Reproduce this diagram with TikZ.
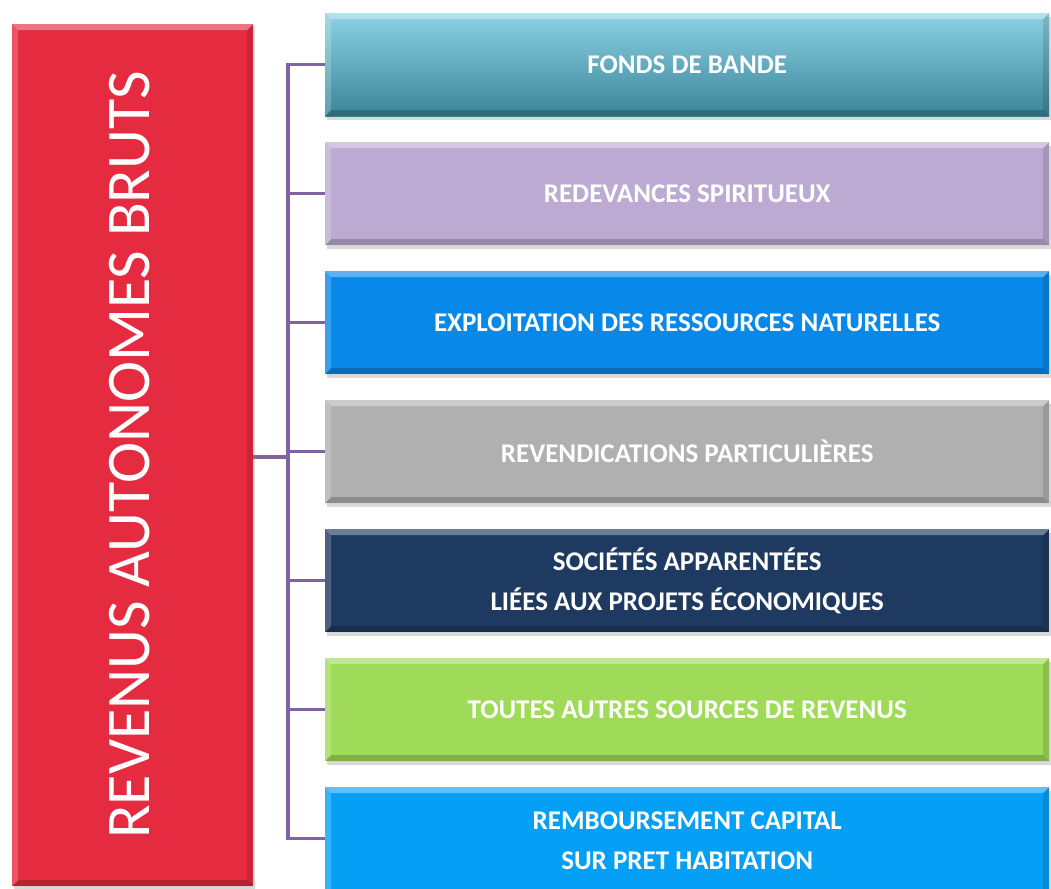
\documentclass[tikz,border=0pt]{standalone}
\usepackage{fontspec}
\setmainfont{Carlito}
\usetikzlibrary{shadows}
\definecolor{redbox}{RGB}{229,43,63}
\definecolor{tealtop}{RGB}{140,210,228}
\definecolor{tealbot}{RGB}{58,132,152}
\definecolor{lavender}{RGB}{188,170,210}
\definecolor{blueA}{RGB}{8,136,232}
\definecolor{grayB}{RGB}{176,176,176}
\definecolor{navy}{RGB}{31,58,96}
\definecolor{greenC}{RGB}{159,219,88}
\definecolor{blueD}{RGB}{5,160,246}
\definecolor{purpleline}{RGB}{128,100,162}
\tikzset{
  bevel/.style={path picture={
    \fill[white,opacity=.35] (path picture bounding box.north west) -- (path picture bounding box.north east)
      -- ([xshift=-6pt,yshift=-6pt]path picture bounding box.north east) -- ([xshift=6pt,yshift=-6pt]path picture bounding box.north west) -- cycle;
    \fill[white,opacity=.2] (path picture bounding box.north west) -- ([xshift=6pt,yshift=-6pt]path picture bounding box.north west)
      -- ([xshift=6pt,yshift=6pt]path picture bounding box.south west) -- (path picture bounding box.south west) -- cycle;
    \fill[black,opacity=.2] (path picture bounding box.south west) -- (path picture bounding box.south east)
      -- ([xshift=-6pt,yshift=6pt]path picture bounding box.south east) -- ([xshift=6pt,yshift=6pt]path picture bounding box.south west) -- cycle;
    \fill[black,opacity=.12] (path picture bounding box.north east) -- ([xshift=-6pt,yshift=-6pt]path picture bounding box.north east)
      -- ([xshift=-6pt,yshift=6pt]path picture bounding box.south east) -- (path picture bounding box.south east) -- cycle;
  }},
  item/.style={rectangle, minimum width=724pt, minimum height=103pt, anchor=north west,
    inner sep=0pt, text=white, align=center,
    font=\bfseries\fontsize{27}{40}\selectfont,
    drop shadow={shadow xshift=2pt, shadow yshift=-4pt, opacity=.3}, bevel},
  mainbox/.style={rectangle, minimum width=241pt, minimum height=862pt, anchor=north west,
    inner sep=0pt, fill=redbox, drop shadow={shadow xshift=2pt, shadow yshift=-3pt, opacity=.3}, bevel},
  conn/.style={draw=purpleline, line width=3.5pt},
}
\begin{document}
\begin{tikzpicture}[x=1pt,y=-1pt]
\useasboundingbox (0,0) rectangle (1051,888);
\clip (0,0) rectangle (1051,888);
\node[mainbox] (red) at (12,24) {};
\node[text=white, rotate=90, font=\fontsize{62}{70}\selectfont] (redlabel) at (130,455) {REVENUS AUTONOMES BRUTS};
\node[item, top color=tealtop, bottom color=tealbot] (b1) at (325,13) {FONDS DE BANDE};
\node[item, fill=lavender] (b2) at (325,142) {REDEVANCES SPIRITUEUX};
\node[item, fill=blueA] (b3) at (325,271) {EXPLOITATION DES RESSOURCES NATURELLES};
\node[item, fill=grayB] (b4) at (325,400) {REVENDICATIONS PARTICULIÈRES};
\node[item, fill=navy] (b5) at (325,529) {SOCIÉTÉS APPARENTÉES\\LIÉES AUX PROJETS ÉCONOMIQUES};
\node[item, fill=greenC] (b6) at (325,658) {TOUTES AUTRES SOURCES DE REVENUS};
\node[item, fill=blueD, minimum height=108pt] (b7) at (325,787) {REMBOURSEMENT CAPITAL\\SUR PRET HABITATION};
\coordinate (j) at (288,457);
\draw[conn] (red.east |- j) -- (j);
\foreach \b in {b1,b2,b3,b4,b5,b6}{
  \draw[conn] (j) |- (\b.west);
}
\draw[conn] (j) |- ([yshift=2.5pt]b7.west);
\end{tikzpicture}
\end{document}
